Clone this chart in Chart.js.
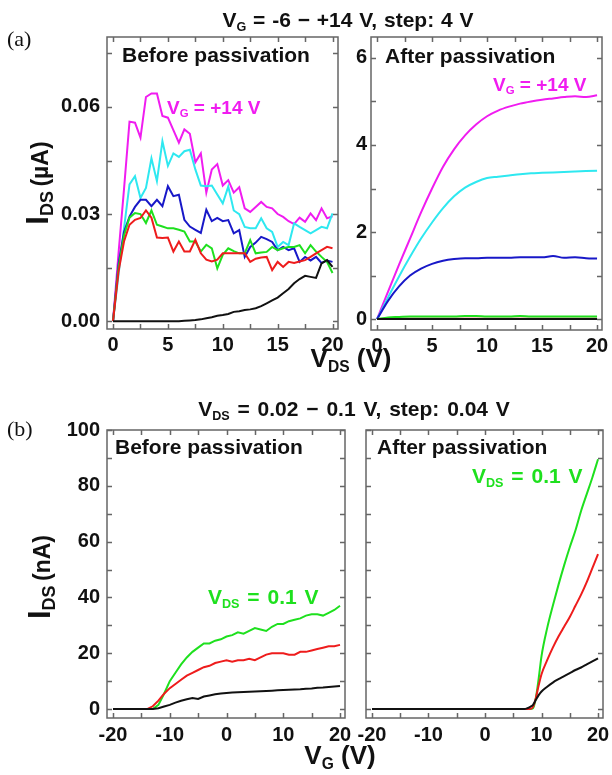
<!DOCTYPE html>
<html>
<head>
<meta charset="utf-8">
<script src="https://cdn.jsdelivr.net/npm/chart.js@4.4.0/dist/chart.umd.min.js"></script>
<style>
  body { margin: 0; background: #fff; }
  #page { position: relative; width: 612px; height: 775px; overflow: hidden; }
  canvas { position: absolute; }
  .t { position: absolute; line-height: 1; white-space: nowrap; font-family: 'Liberation Sans', Arial, sans-serif; font-weight: bold; color: #111; }
  .s { font-size: 0.6em; position: relative; top: 0.3em; }
  .lbl { position: absolute; font-family: 'Liberation Serif', serif; font-size: 22px; line-height: 1; color: #111; }
  .yt { position: absolute; white-space: nowrap; font-family: 'Liberation Sans', Arial, sans-serif; font-weight: bold; color: #111; transform: translate(-50%, -50%) rotate(-90deg); line-height: 1; }
</style>
</head>
<body>
<div id="page">
  <canvas id="aLeft"></canvas>
  <canvas id="aRight"></canvas>
  <canvas id="bLeft"></canvas>
  <canvas id="bRight"></canvas>

  <div class="t" style="font-size:21px;word-spacing:1px;left:348px;top:9px;transform:translateX(-50%)">V<span class="s">G</span> = -6 &minus; +14 V, step: 4 V</div>
  <div class="t" style="font-size:21px;word-spacing:2px;left:354px;top:398px;transform:translateX(-50%)">V<span class="s">DS</span> = 0.02 &minus; 0.1 V, step: 0.04 V</div>
  <div class="lbl" style="left:7px;top:28px">(a)</div>
  <div class="lbl" style="left:7px;top:418px">(b)</div>

  <div class="t" style="font-size:21px;left:122px;top:44px">Before passivation</div>
  <div class="t" style="font-size:21px;left:385px;top:45px">After passivation</div>
  <div class="t" style="font-size:21px;left:115px;top:436px">Before passivation</div>
  <div class="t" style="font-size:21px;left:377px;top:436px">After passivation</div>

  <div class="t" style="font-size:19px;left:167px;top:98px;color:#f01cf0">V<span class="s">G</span> = +14 V</div>
  <div class="t" style="font-size:19px;left:493px;top:75px;color:#f01cf0">V<span class="s">G</span> = +14 V</div>
  <div class="t" style="font-size:21px;word-spacing:2px;left:208px;top:586px;color:#1ee01e">V<span class="s">DS</span> = 0.1 V</div>
  <div class="t" style="font-size:21px;word-spacing:2px;left:472px;top:465px;color:#1ee01e">V<span class="s">DS</span> = 0.1 V</div>

  <div class="t" style="font-size:26px;left:351px;top:345px;transform:translateX(-50%)">V<span class="s">DS</span> (V)</div>
  <div class="t" style="font-size:26px;left:340px;top:742px;transform:translateX(-50%)">V<span class="s">G</span> (V)</div>
  <div class="yt" style="left:37px;top:183px"><span style="font-size:31px">I</span><span style="font-size:18px;position:relative;top:5px">DS</span> <span style="font-size:23px">(&micro;A)</span></div>
  <div class="yt" style="left:39px;top:577px"><span style="font-size:31px">I</span><span style="font-size:18px;position:relative;top:5px">DS</span> <span style="font-size:23px">(nA)</span></div>
</div>

<script>
// (a) output curves, I_DS (uA) vs V_DS (V), V_G = -6 ... +14 V
const vdsBefore = [0, 0.5, 1, 1.5, 2, 2.5, 3, 3.5, 4, 4.5, 5, 5.5, 6, 6.5, 7, 7.5, 8, 8.5, 9, 9.5, 10,
  10.5, 11, 11.5, 12, 12.5, 13, 13.5, 14, 14.5, 15, 15.5, 16, 16.5, 17, 17.5, 18, 18.5, 19, 19.5, 20]
const beforeVgM6 = [0, 0, 0, 0, 0, 0, 0, 0, 0, 0, 0, 0, 0, 0.0001, 0.0002, 0.0003, 0.0005, 0.0008, 0.0011, 0.0015, 0.0017,
  0.002, 0.0026, 0.0028, 0.0031, 0.0033, 0.0036, 0.0042, 0.005, 0.0058, 0.0066, 0.0078, 0.009, 0.0106, 0.0118, 0.0127, 0.0124, 0.0121, 0.0162, 0.0171, 0.0152]
const beforeVgM2 = [0, 0.0139, 0.0223, 0.027, 0.0284, 0.0289, 0.031, 0.029, 0.0234, 0.0233, 0.0234, 0.0195, 0.0223, 0.0195, 0.0195, 0.0228, 0.019, 0.0172, 0.0167, 0.0172, 0.019,
  0.019, 0.019, 0.019, 0.019, 0.0166, 0.0175, 0.0178, 0.018, 0.0143, 0.0166, 0.0152, 0.0166, 0.0163, 0.0167, 0.0171, 0.018, 0.019, 0.0199, 0.0208, 0.0204]
const beforeVgP2 = [0, 0.015, 0.024, 0.029, 0.0303, 0.030, 0.0275, 0.031, 0.027, 0.0265, 0.026, 0.026, 0.0256, 0.0251, 0.0223, 0.0223, 0.0195, 0.0214, 0.0204, 0.0148, 0.0186,
  0.0204, 0.0196, 0.019, 0.019, 0.0227, 0.019, 0.0192, 0.0194, 0.0208, 0.0199, 0.0204, 0.0208, 0.0208, 0.0213, 0.019, 0.0213, 0.0195, 0.018, 0.0166, 0.0135]
const beforeVgP6 = [0, 0.016, 0.025, 0.0293, 0.032, 0.034, 0.034, 0.0322, 0.034, 0.0322, 0.0378, 0.035, 0.0354, 0.0284, 0.0265, 0.0256, 0.0247, 0.0312, 0.028, 0.0289, 0.028,
  0.0283, 0.0246, 0.0255, 0.018, 0.0208, 0.022, 0.0236, 0.023, 0.0222, 0.0199, 0.0208, 0.0199, 0.0204, 0.0166, 0.018, 0.017, 0.018, 0.0163, 0.017, 0.0166]
const beforeVgP10 = [0, 0.013, 0.026, 0.0383, 0.0406, 0.0345, 0.0373, 0.0456, 0.0392, 0.0504, 0.0435, 0.047, 0.046, 0.0476, 0.048, 0.0425, 0.038, 0.0378, 0.038, 0.0355, 0.033,
  0.0377, 0.031, 0.030, 0.0264, 0.026, 0.026, 0.0288, 0.026, 0.025, 0.0208, 0.0222, 0.0213, 0.0274, 0.0264, 0.0255, 0.0246, 0.0255, 0.0264, 0.026, 0.0302]
const beforeVgP14 = [0, 0.019, 0.037, 0.0559, 0.0556, 0.0514, 0.0628, 0.0638, 0.0638, 0.0575, 0.057, 0.0535, 0.050, 0.0537, 0.0525, 0.0445, 0.047, 0.036, 0.0425, 0.044, 0.038,
  0.0395, 0.036, 0.0375, 0.0316, 0.0306, 0.032, 0.0334, 0.032, 0.0316, 0.030, 0.0292, 0.028, 0.0272, 0.029, 0.0278, 0.0302, 0.0283, 0.0316, 0.0288, 0.0294]

const vdsAfter = [0, 1, 2, 3, 4, 5, 6, 7, 8, 9, 10, 11, 12, 13, 14, 15, 16, 17, 18, 19, 20]
const afterVgM6 = [0, 0, 0, 0, 0, 0, 0, 0, 0, 0, 0, 0, 0, 0, 0, 0, 0, 0, 0, 0, 0]
const afterVgM2 = [0, 0.01, 0.01, 0.01, 0.01, 0.01, 0.01, 0.01, 0.01, 0.01, 0.01, 0.01, 0.01, 0.01, 0.01, 0.01, 0.01, 0.01, 0.01, 0.01, 0.01]
const afterVgP2 = [0, 0.04, 0.05, 0.06, 0.06, 0.06, 0.06, 0.06, 0.07, 0.07, 0.06, 0.06, 0.06, 0.07, 0.06, 0.06, 0.06, 0.06, 0.06, 0.06, 0.06]
const afterVgP6 = [0, 0.42, 0.75, 1.0, 1.16, 1.27, 1.34, 1.38, 1.4, 1.4, 1.41, 1.41, 1.41, 1.42, 1.42, 1.42, 1.45, 1.41, 1.42, 1.4, 1.39]
const afterVgP10 = [0, 0.5, 0.98, 1.43, 1.85, 2.22, 2.55, 2.82, 3.02, 3.15, 3.24, 3.27, 3.3, 3.33, 3.35, 3.36, 3.37, 3.38, 3.39, 3.4, 3.41]
const afterVgP14 = [0, 0.63, 1.25, 1.85, 2.45, 3.0, 3.5, 3.9, 4.22, 4.47, 4.66, 4.79, 4.88, 4.95, 5.0, 5.04, 5.07, 5.1, 5.12, 5.1, 5.14]

// (b) transfer curves, I_DS (nA) vs V_G (V), V_DS = 0.02, 0.06, 0.1 V
const vgBefore = [-20, -19, -18, -17, -16, -15, -14, -13, -12, -11, -10, -9, -8, -7, -6, -5, -4, -3, -2, -1, 0,
  1, 2, 3, 4, 5, 6, 7, 8, 9, 10, 11, 12, 13, 14, 15, 16, 17, 18, 19, 20]
const beforeVds002 = [0, 0, 0, 0, 0, 0, 0, 0, 0.3, 0.9, 1.5, 2.3, 3.0, 3.5, 4.0, 3.6, 4.5, 4.9, 5.3, 5.6, 5.8,
  5.9, 6.0, 6.1, 6.2, 6.3, 6.4, 6.5, 6.6, 6.7, 6.8, 6.9, 7.0, 7.1, 7.3, 7.4, 7.6, 7.7, 7.9, 8.1, 8.3]
const beforeVds006 = [0, 0, 0, 0, 0, 0, 0, 1.0, 3.0, 5.5, 7.5, 9.0, 10.5, 12.0, 13.0, 14.0, 15.0, 15.5, 16.5, 17.0, 17.5,
  17.0, 17.5, 17.5, 18.0, 17.5, 18.5, 19.5, 20.0, 20.0, 20.0, 19.5, 19.5, 20.5, 20.5, 21.0, 21.5, 22.0, 22.5, 22.5, 23.0]
const beforeVds01 = [0, 0, 0, 0, 0, 0, 0, 0, 1.5, 5.5, 10.0, 13.0, 16.0, 18.5, 20.5, 22.0, 23.5, 23.5, 24.5, 25.0, 26.0,
  26.5, 27.5, 27.0, 28.0, 29.0, 28.5, 28.0, 29.5, 30.5, 30.5, 31.5, 32.0, 32.5, 33.5, 34.0, 34.0, 33.5, 34.5, 35.5, 37.0]

const vgAfter = [-20, -15, -10, -5, 0, 5, 7, 7.5, 8, 8.5, 9, 9.5, 10, 11, 12, 13, 14, 15, 16, 17, 18, 19, 20]
const afterVds002 = [0, 0, 0, 0, 0, 0, 0, 0.3, 0.8, 1.5, 3.3, 5.0, 6.3, 8.0, 9.5, 10.7, 11.8, 12.9, 14.0, 14.9, 16.0, 17.1, 18.2]
const afterVds006 = [0, 0, 0, 0, 0, 0, 0, 0, 0, 0.8, 4.0, 8.5, 12.5, 17.5, 22.0, 26.0, 29.5, 33.0, 37.0, 41.0, 45.5, 50.5, 55.5]
const afterVds01 = [0, 0, 0, 0, 0, 0, 0, 0, 0, 0.3, 4.0, 11.0, 19.0, 29.0, 37.0, 44.5, 51.5, 58.0, 64.0, 71.0, 77.0, 83.0, 89.5]

// tick positions
const aXTicks = [0, 5, 10, 15, 20]
const aXMarks = [0, 2.5, 5, 7.5, 10, 12.5, 15, 17.5, 20]
const aLeftYTicks = [0, 0.03, 0.06]
const aLeftYMarks = [0, 0.015, 0.03, 0.045, 0.06, 0.075]
const aRightYTicks = [0, 2, 4, 6]
const aRightYMarks = [0, 1, 2, 3, 4, 5, 6]
const bXTicks = [-20, -10, 0, 10, 20]
const bXMarks = [-20, -15, -10, -5, 0, 5, 10, 15, 20]
const bYTicks = [0, 20, 40, 60, 80, 100]
const bYMarks = [0, 10, 20, 30, 40, 50, 60, 70, 80, 90, 100]

const BLACK = '#111111', RED = '#ee1c1c', GREEN = '#1ee01e', BLUE = '#1818c8', CYAN = '#2ee8f0', MAGENTA = '#f01cf0'

Chart.defaults.font.family = "'Liberation Sans', Arial, sans-serif"
Chart.defaults.font.weight = 'bold'
Chart.defaults.font.size = 20
Chart.defaults.color = '#111'

// box around the plot area with inward ticks on all four sides
function drawFrame(chart, xMarks, yMarks) {
  const a = chart.chartArea
  const ctx = chart.ctx
  const sx = chart.scales.x, sy = chart.scales.y
  ctx.save()
  ctx.strokeStyle = '#666'
  ctx.lineWidth = 1.5
  ctx.strokeRect(a.left, a.top, a.right - a.left, a.bottom - a.top)
  ctx.beginPath()
  xMarks.forEach(v => {
    const px = Math.round(sx.getPixelForValue(v)) + 0.5
    ctx.moveTo(px, a.bottom); ctx.lineTo(px, a.bottom - 5)
    ctx.moveTo(px, a.top); ctx.lineTo(px, a.top + 5)
  })
  yMarks.forEach(v => {
    const py = Math.round(sy.getPixelForValue(v)) + 0.5
    ctx.moveTo(a.left, py); ctx.lineTo(a.left + 5, py)
    ctx.moveTo(a.right, py); ctx.lineTo(a.right - 5, py)
  })
  ctx.stroke()
  ctx.restore()
}

function series(xs, ys, color) {
  return {
    data: xs.map((x, i) => ({x: x, y: ys[i]})),
    borderColor: color,
    borderWidth: 2,
    pointRadius: 0,
    fill: false,
    tension: 0
  }
}

function makePanel(id, box, p) {
  // generous padding so tick labels never push the plot area around
  const pad = {left: 24, top: 24, right: 24, bottom: 4}
  const xH = 30
  const yW = p.yTicks ? p.yW : 0
  const cv = document.getElementById(id)
  const w = box.r - box.l + pad.left + yW + pad.right
  const h = box.b - box.t + pad.top + xH + pad.bottom
  cv.width = w
  cv.height = h
  cv.style.width = w + 'px'
  cv.style.height = h + 'px'
  cv.style.left = (box.l - pad.left - yW) + 'px'
  cv.style.top = (box.t - pad.top) + 'px'

  return new Chart(cv.getContext('2d'), {
    type: 'line',
    data: {datasets: p.datasets},
    plugins: [{
      id: 'frameBox',
      afterDatasetsDraw(c) { drawFrame(c, p.xMarks, p.yMarks) }
    }],
    options: {
      responsive: false,
      animation: false,
      devicePixelRatio: 1,
      layout: {padding: pad},
      plugins: {
        legend: {display: false},
        tooltip: {enabled: false}
      },
      scales: {
        x: {
          type: 'linear',
          min: p.xMin, max: p.xMax,
          grid: {display: false, drawTicks: false},
          border: {display: false},
          ticks: {padding: p.xPad, maxRotation: 0, autoSkip: false},
          afterBuildTicks: s => { s.ticks = p.xTicks.map(v => ({value: v})) },
          afterFit: s => { s.height = xH }
        },
        y: {
          type: 'linear',
          min: p.yMin, max: p.yMax,
          grid: {display: false, drawTicks: false},
          border: {display: false},
          ticks: {
            display: !!p.yTicks,
            padding: p.yPad,
            autoSkip: false,
            callback: p.yFmt || (v => v)
          },
          afterBuildTicks: s => { s.ticks = (p.yTicks || []).map(v => ({value: v})) },
          afterFit: s => { s.width = yW }
        }
      }
    }
  })
}

makePanel('aLeft', {l: 107, t: 37, r: 338, b: 329}, {
  xMin: -0.55, xMax: 20.5, yMin: -0.0022, yMax: 0.0796,
  xTicks: aXTicks, xMarks: aXMarks, yTicks: aLeftYTicks, yMarks: aLeftYMarks,
  yW: 60, yPad: 7, xPad: 4, yFmt: v => v.toFixed(2),
  datasets: [
    series(vdsBefore, beforeVgM6, BLACK),
    series(vdsBefore, beforeVgM2, RED),
    series(vdsBefore, beforeVgP2, GREEN),
    series(vdsBefore, beforeVgP6, BLUE),
    series(vdsBefore, beforeVgP10, CYAN),
    series(vdsBefore, beforeVgP14, MAGENTA)
  ]
})

const smooth = d => Object.assign(d, {tension: 0.4, cubicInterpolationMode: 'monotone'})

makePanel('aRight', {l: 371, t: 37, r: 602, b: 330}, {
  xMin: -0.55, xMax: 20.45, yMin: -0.25, yMax: 6.48,
  xTicks: aXTicks, xMarks: aXMarks, yTicks: aRightYTicks, yMarks: aRightYMarks,
  yW: 24, yPad: 4, xPad: 4,
  datasets: [
    smooth(series(vdsAfter, afterVgM6, BLACK)),
    smooth(series(vdsAfter, afterVgP2, GREEN)),
    smooth(series(vdsAfter, afterVgM2, RED)),
    smooth(series(vdsAfter, afterVgP6, BLUE)),
    smooth(series(vdsAfter, afterVgP10, CYAN)),
    smooth(series(vdsAfter, afterVgP14, MAGENTA))
  ]
})

makePanel('bLeft', {l: 107, t: 430, r: 345, b: 718}, {
  xMin: -21.06, xMax: 20.88, yMin: -3.2, yMax: 100,
  xTicks: bXTicks, xMarks: bXMarks, yTicks: bYTicks, yMarks: bYMarks,
  yW: 60, yPad: 7, xPad: 5,
  datasets: [
    series(vgBefore, beforeVds002, BLACK),
    series(vgBefore, beforeVds006, RED),
    series(vgBefore, beforeVds01, GREEN)
  ]
})

makePanel('bRight', {l: 366, t: 430, r: 603, b: 718}, {
  xMin: -21.06, xMax: 20.88, yMin: -3.2, yMax: 100,
  xTicks: bXTicks, xMarks: bXMarks, yTicks: null, yMarks: bYMarks,
  yW: 0, yPad: 0, xPad: 5,
  datasets: [
    smooth(series(vgAfter, afterVds002, BLACK)),
    smooth(series(vgAfter, afterVds006, RED)),
    smooth(series(vgAfter, afterVds01, GREEN))
  ]
})
</script>
</body>
</html>
